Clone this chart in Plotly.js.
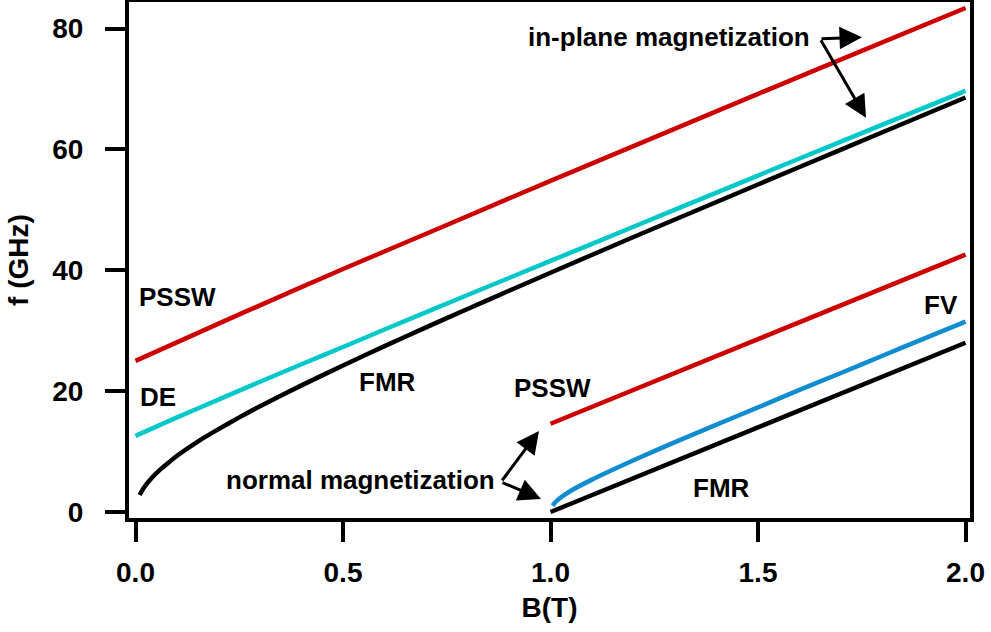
<!DOCTYPE html>
<html>
<head>
<meta charset="utf-8">
<script src="https://cdn.plot.ly/plotly-3.0.1.min.js"></script>
<style>html,body{margin:0;padding:0;background:#fff;}#chart{width:991px;height:632px;}</style>
</head>
<body>
<div id="chart"></div>
<script>
// ---- Data ----
// In-plane magnetization
const B_ipPSSW = [0.0, 0.25, 0.5, 0.75, 1.0, 1.25, 1.5, 1.75, 2.0];
const f_ipPSSW = [25.0, 32.7, 40.2, 47.5, 54.8, 62.0, 69.2, 76.3, 83.4];

const B_DE = [0.0, 0.1, 0.2, 0.3, 0.4, 0.5, 0.6, 0.8, 1.0, 1.2, 1.4, 1.6, 1.8, 2.0];
const f_DE = [12.6, 15.65, 18.6, 21.55, 24.45, 27.3, 30.2, 35.9, 41.55, 47.2, 52.85, 58.5, 64.1, 69.7];

const B_ipFMR = [0.01, 0.02, 0.04, 0.06, 0.08, 0.1, 0.15, 0.2, 0.25, 0.3, 0.4, 0.5, 0.6, 0.7, 0.8, 0.9, 1.0, 1.2, 1.4, 1.6, 1.8, 2.0];
const f_ipFMR = [2.8, 4.0, 5.7, 7.05, 8.2, 9.3, 11.65, 13.7, 15.65, 17.5, 20.95, 24.25, 27.45, 30.55, 33.6, 36.6, 39.6, 45.5, 51.3, 57.1, 62.85, 68.6];

// Normal magnetization
const B_nPSSW = [1.0, 1.5, 2.0];
const f_nPSSW = [14.6, 28.6, 42.6];

const B_FV = [1.005, 1.01, 1.02, 1.05, 1.1, 1.2, 1.3, 1.4, 1.5, 1.6, 1.7, 1.8, 1.9, 2.0];
const f_FV = [1.05, 1.5, 2.15, 3.55, 5.35, 8.55, 11.55, 14.45, 17.3, 20.2, 23.0, 25.85, 28.7, 31.5];

const B_nFMR = [1.0, 1.5, 2.0];
const f_nFMR = [0.0, 14.0, 28.0];

// Axis ticks
const xTicks = [0.0, 0.5, 1.0, 1.5, 2.0];
const xTickText = ["0.0", "0.5", "1.0", "1.5", "2.0"];
const yTicks = [0, 20, 40, 60, 80];
const yTickText = ["0", "20", "40", "60", "80"];

// Text labels
const labelTexts = ["PSSW", "DE", "FMR", "PSSW", "normal magnetization", "FMR", "FV", "in-plane magnetization"];
// ---- end data ----

const labelPos = [
  [0.101, 35.5], [0.053, 19.0], [0.608, 21.5], [1.005, 20.5],
  [0.543, 5.3], [1.411, 3.95], [1.942, 34.3], [1.2855, 78.56]
];

const RED = "rgb(204,0,0)", CYAN = "rgb(0,200,200)", BLUE = "rgb(16,140,208)", BLACK = "#000";
const LW = 4.5;
function line(x, y, c) {
  return {x: x, y: y, type: "scatter", mode: "lines", line: {color: c, width: LW, shape: "spline", smoothing: 0.6}, hoverinfo: "skip", showlegend: false};
}
const traces = [
  line(B_ipPSSW, f_ipPSSW, RED),
  line(B_DE, f_DE, CYAN),
  line(B_ipFMR, f_ipFMR, BLACK),
  line(B_nPSSW, f_nPSSW, RED),
  line(B_FV, f_FV, BLUE),
  line(B_nFMR, f_nFMR, BLACK)
];

const FONT = "Liberation Sans, Arial, sans-serif";
const annFont = {family: FONT, size: 26, color: "#000", weight: 700};
const annotations = labelTexts.map((t, i) => ({
  text: t, x: labelPos[i][0], y: labelPos[i][1], xref: "x", yref: "y",
  showarrow: false, xanchor: "center", yanchor: "middle", font: annFont
}));

function arrow(tx, ty, hx, hy) {
  return {x: hx, y: hy, ax: tx, ay: ty, xref: "x", yref: "y", axref: "x", ayref: "y",
    text: "", showarrow: true, arrowhead: 2, arrowsize: 1.5, arrowwidth: 3, arrowcolor: "#000", standoff: 0, startstandoff: 0};
}
annotations.push(arrow(1.6494, 78.31, 1.7506, 78.56));
annotations.push(arrow(1.6494, 78.31, 1.7602, 65.23));
annotations.push(arrow(0.8807, 4.97, 0.9723, 13.41));
annotations.push(arrow(0.8807, 4.97, 0.9771, 2.15));

const tickFont = {family: FONT, size: 28, color: "#000", weight: 700};
const layout = {
  width: 991, height: 632,
  margin: {l: 129, r: 21, t: 2, b: 114, pad: 0},
  paper_bgcolor: "#fff", plot_bgcolor: "#fff",
  showlegend: false,
  xaxis: {
    range: [-0.0157, 2.0108], tickvals: xTicks, ticktext: xTickText,
    showgrid: false, zeroline: false, showline: true, mirror: true, linecolor: "#000", linewidth: 4,
    ticks: "outside", ticklen: 20, tickwidth: 4, tickcolor: "#000", ticklabelstandoff: 6,
    tickfont: tickFont,
    title: {text: "B(T)", font: tickFont, standoff: 12}
  },
  yaxis: {
    range: [-1.0, 84.4], tickvals: yTicks, ticktext: yTickText,
    showgrid: false, zeroline: false, showline: true, mirror: true, linecolor: "#000", linewidth: 4,
    ticks: "outside", ticklen: 20, tickwidth: 4, tickcolor: "#000", ticklabelstandoff: 16,
    tickfont: tickFont,
    title: {text: "f (GHz)", font: tickFont, standoff: 16}
  },
  annotations: annotations
};
Plotly.newPlot("chart", traces, layout, {staticPlot: true, displayModeBar: false});
</script>
</body>
</html>
